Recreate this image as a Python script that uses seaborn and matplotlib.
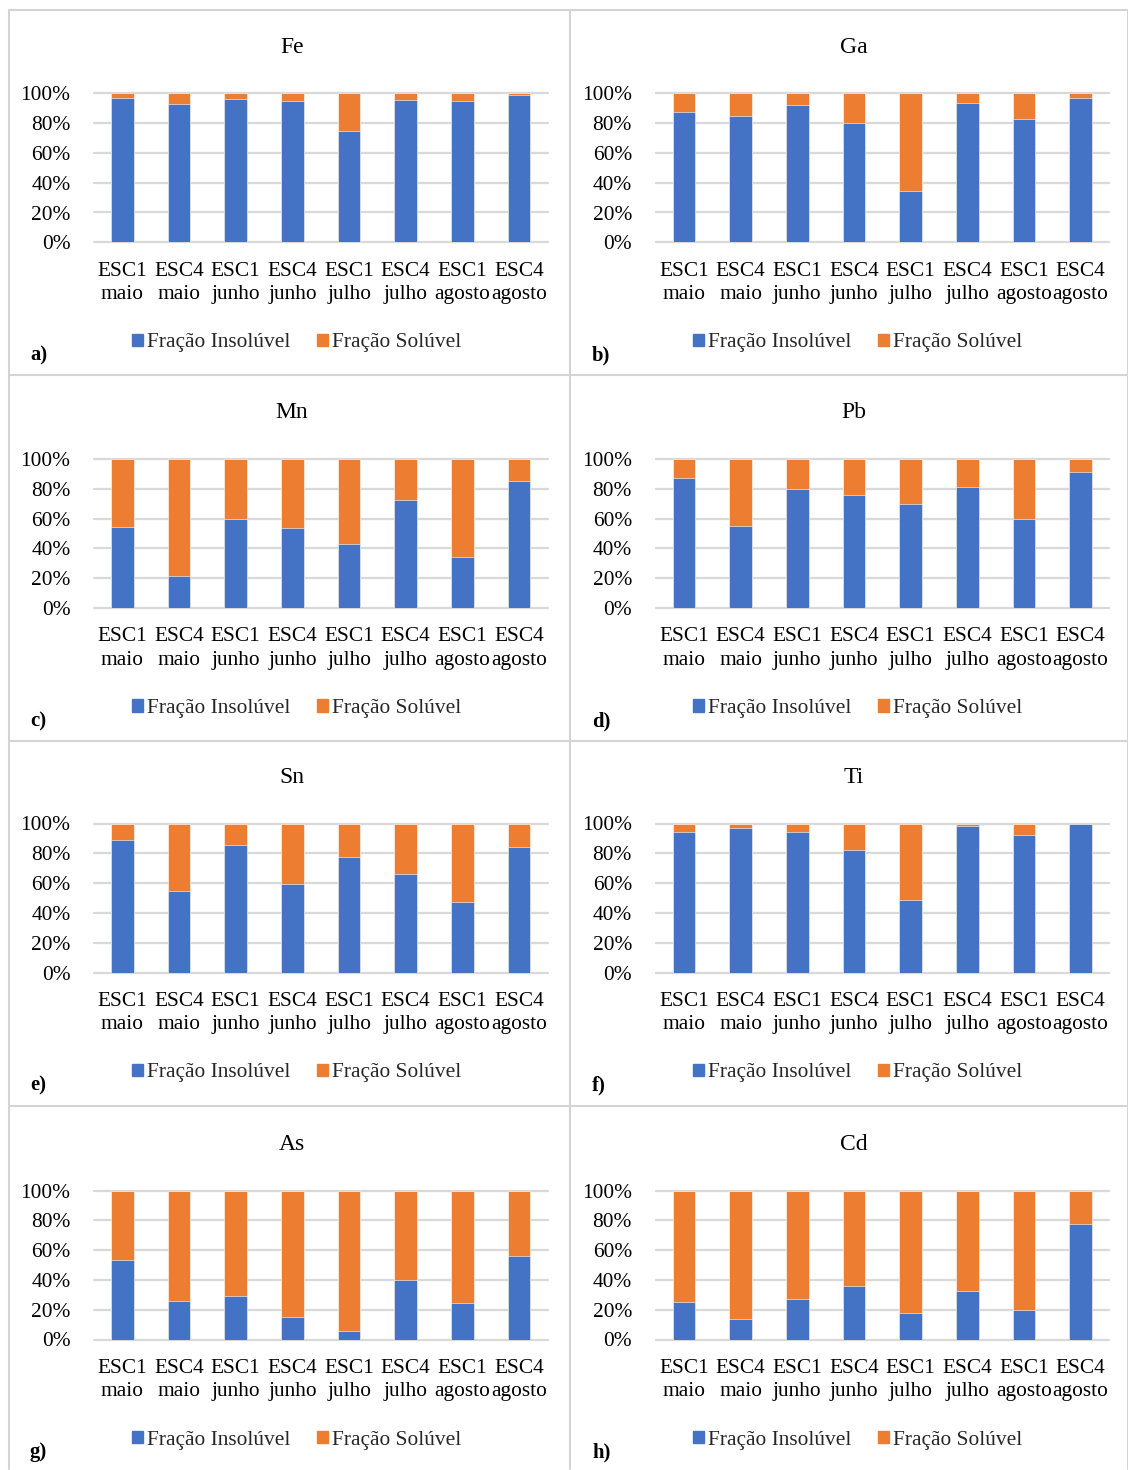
import matplotlib
matplotlib.use("Agg")
import matplotlib.pyplot as plt
from matplotlib.patches import Patch
from matplotlib.lines import Line2D
import seaborn as sns
import pandas as pd

sns.set_theme(style="white")
plt.rcParams['font.family'] = ['Liberation Serif', 'DejaVu Serif']

categories = ["ESC1\nmaio", "ESC4\nmaio", "ESC1\njunho", "ESC4\njunho",
              "ESC1\njulho", "ESC4\njulho", "ESC1\nagosto", "ESC4\nagosto"]
elements = ["Fe", "Ga", "Mn", "Pb", "Sn", "Ti", "As", "Cd"]
panel_labels = ["a)", "b)", "c)", "d)", "e)", "f)", "g)", "h)"]
series_names = ["Fração Insolúvel", "Fração Solúvel"]
yticks = [0, 20, 40, 60, 80, 100]
ytick_labels = ["0%", "20%", "40%", "60%", "80%", "100%"]

fe_insol = [97, 93, 96, 95, 75, 95.5, 95, 99]
fe_sol = [3, 7, 4, 5, 25, 4.5, 5, 1]
ga_insol = [87.7, 84.6, 92.4, 80.3, 34.2, 93.7, 83, 97.1]
ga_sol = [12.3, 15.4, 7.6, 19.7, 65.8, 6.3, 17, 2.9]
mn_insol = [54.4, 21.6, 59.8, 53.7, 42.9, 72.6, 34.2, 85.4]
mn_sol = [45.6, 78.4, 40.2, 46.3, 57.1, 27.4, 65.8, 14.6]
pb_insol = [87.2, 55.1, 79.8, 75.7, 69.7, 81.3, 59.8, 91.2]
pb_sol = [12.8, 44.9, 20.2, 24.3, 30.3, 18.7, 40.2, 8.8]
sn_insol = [89.2, 54.7, 85.4, 59.2, 77.4, 65.9, 47.3, 83.9]
sn_sol = [10.8, 45.3, 14.6, 40.8, 22.6, 34.1, 52.7, 16.1]
ti_insol = [94.2, 96.9, 94.2, 82, 48.5, 98, 92.1, 99.6]
ti_sol = [5.8, 3.1, 5.8, 18, 51.5, 2, 7.9, 0.4]
as_insol = [53.5, 25.6, 29.4, 15.1, 6, 39.8, 24.5, 56.2]
as_sol = [46.5, 74.4, 70.6, 84.9, 94, 60.2, 75.5, 43.8]
cd_insol = [24.9, 13.7, 27.4, 36, 17.8, 32.4, 19.8, 77.3]
cd_sol = [75.1, 86.3, 72.6, 64, 82.2, 67.6, 80.2, 22.7]

insol_all = [fe_insol, ga_insol, mn_insol, pb_insol, sn_insol, ti_insol, as_insol, cd_insol]
sol_all = [fe_sol, ga_sol, mn_sol, pb_sol, sn_sol, ti_sol, as_sol, cd_sol]

BLUE = "#4472C4"
ORANGE = "#ED7D31"
GRID = "#D9D9D9"
BORDER = "#D4D4D4"
TEXT = "#000000"

W, H = 1128, 1470
fig = plt.figure(figsize=(W / 100, H / 100), dpi=100)

FS = 15.4

# cell borders (table lines)
col_x = [8.5, 570, 1127.5]
row_y = [10, 375, 741, 1106, 1469]
for x in col_x:
    fig.add_artist(Line2D([x / W, x / W], [1 - row_y[0] / H, 1 - row_y[-1] / H],
                          color=BORDER, lw=1.5, transform=fig.transFigure))
for y in row_y[:-1]:
    fig.add_artist(Line2D([col_x[0] / W, col_x[-1] / W], [1 - y / H, 1 - y / H],
                          color=BORDER, lw=1.5, transform=fig.transFigure))

ax_left = [94, 655.5]
ax_width = 453.5
top_y = [93.3, 459, 823.5, 1190.5]
ax_height = 149

for i, el in enumerate(elements):
    r, c = divmod(i, 2)
    x0 = ax_left[c]
    y0 = top_y[r]
    ax = fig.add_axes([x0 / W, 1 - (y0 + ax_height) / H, ax_width / W, ax_height / H])

    df = pd.DataFrame({"cat": categories,
                       "insol": insol_all[i],
                       "sol": sol_all[i]})
    df["total"] = df["insol"] + df["sol"]

    sns.barplot(data=df, x="cat", y="total", color=ORANGE, saturation=1,
                width=0.4, ax=ax, edgecolor="white", linewidth=0.4, zorder=3)
    sns.barplot(data=df, x="cat", y="insol", color=BLUE, saturation=1,
                width=0.4, ax=ax, edgecolor="white", linewidth=0.4, zorder=3)

    ax.set_xlim(-0.5, 7.5)
    ax.set_ylim(0, 100)
    ax.set_yticks(yticks)
    ax.set_yticklabels(ytick_labels)
    ax.set_xlabel("")
    ax.set_ylabel("")
    for s in ax.spines.values():
        s.set_visible(False)
    for yt in yticks:
        ax.axhline(yt, color=GRID, lw=1.6, zorder=1, clip_on=False)
    ax.tick_params(axis="y", length=0, pad=17, labelsize=FS, colors=TEXT)
    ax.tick_params(axis="x", length=0, pad=14, labelsize=FS, colors=TEXT)
    for lab in ax.get_xticklabels():
        lab.set_linespacing(1.32)

    # title
    tx = 292 if c == 0 else 854
    fig.text(tx / W, 1 - (y0 - 46) / H, el, ha="center", va="center",
             fontsize=17, color=TEXT)

    # legend
    handles = [Patch(facecolor=BLUE, edgecolor=BLUE),
               Patch(facecolor=ORANGE, edgecolor=ORANGE)]
    lx = 297 if c == 0 else 858
    fig.legend(handles, series_names, loc="center",
               bbox_to_anchor=(lx / W, 1 - (y0 + 249.5) / H),
               ncol=2, frameon=False, fontsize=FS,
               handlelength=0.5, handleheight=0.5, handletextpad=0.2,
               columnspacing=1.25, borderpad=0)

    # panel label
    px = 30 if c == 0 else 592
    fig.text(px / W, 1 - (y0 + 262) / H, panel_labels[i], ha="left", va="center",
             fontsize=FS - 0.5, fontweight="bold", color=TEXT)

fig.savefig("out.png", dpi=100, facecolor="white")
